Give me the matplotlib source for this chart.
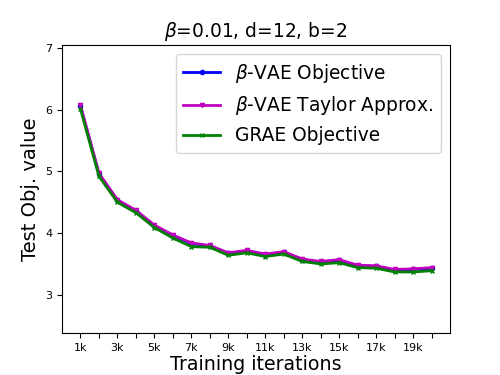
import matplotlib
matplotlib.use("Agg")
import matplotlib.pyplot as plt

iters = list(range(1, 21))

vae = [6.06, 4.96, 4.53, 4.36, 4.12, 3.96, 3.83, 3.79, 3.67, 3.71, 3.65, 3.69, 3.57, 3.53, 3.56, 3.47, 3.46, 3.40, 3.41, 3.43]
taylor = [6.07, 4.97, 4.54, 4.37, 4.13, 3.97, 3.84, 3.80, 3.68, 3.72, 3.66, 3.70, 3.58, 3.54, 3.57, 3.48, 3.47, 3.41, 3.42, 3.44]
grae = [6.01, 4.92, 4.50, 4.33, 4.09, 3.92, 3.78, 3.77, 3.64, 3.68, 3.62, 3.66, 3.54, 3.50, 3.52, 3.44, 3.43, 3.37, 3.37, 3.39]

fig = plt.figure(figsize=(5, 3.75), dpi=100)
ax = fig.add_axes([0.124, 0.112, 0.776, 0.768])

ax.plot(iters, vae, color="b", marker="o", markersize=3, linewidth=2, label=r"$\beta$-VAE Objective")
ax.plot(iters, taylor, color="m", marker="v", markersize=3, linewidth=2, label=r"$\beta$-VAE Taylor Approx.")
ax.plot(iters, grae, color="g", marker="x", markersize=3, linewidth=2, label="GRAE Objective")

ax.set_xlim(0, 21)
ax.set_ylim(2.38, 7.05)
ax.set_xticks(iters)
ax.set_xticklabels(["%dk" % k if k % 2 == 1 else "" for k in iters])
ax.set_yticks([3, 4, 5, 6, 7])
ax.tick_params(labelsize=8)

ax.set_xlabel("Training iterations", fontsize=13.7, labelpad=2)
ax.set_ylabel("Test Obj. value", fontsize=14)
ax.set_title(r"$\beta$=0.01, d=12, b=2", fontsize=13.4)
ax.legend(loc="upper right", fontsize=13.4)

fig.savefig("out.png")
